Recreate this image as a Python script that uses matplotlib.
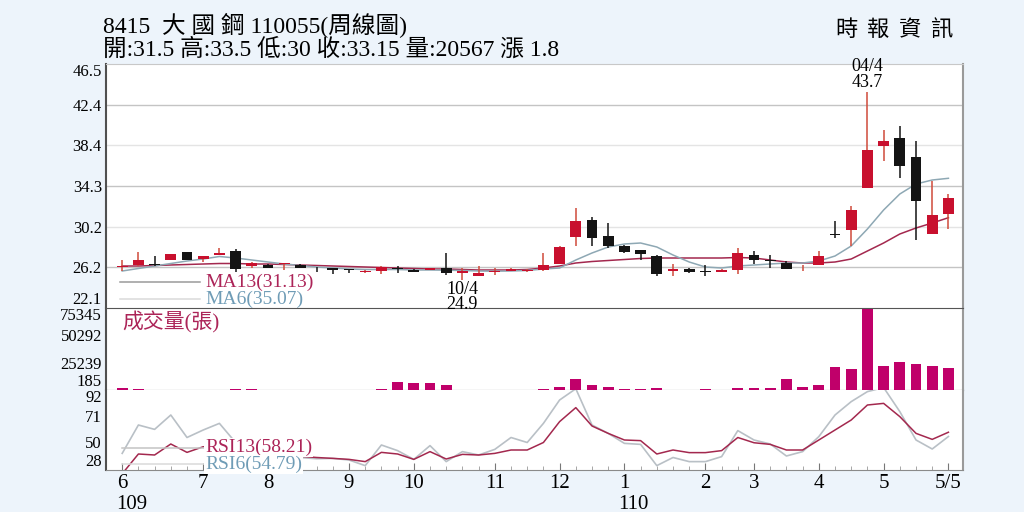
import matplotlib
matplotlib.use("Agg")
import matplotlib.pyplot as plt
import matplotlib.transforms as mtransforms
import numpy as np

plt.rcParams['font.family'] = ['Liberation Serif', 'Noto Sans CJK TC', 'DejaVu Sans']

# ---- weekly data, 109/06 .. 110/05/05 ----
opens = [26.25, 26.45, 26.5, 26.9, 27.7, 27.0, 27.4, 27.8, 26.3, 26.45,
         26.5, 26.4, 26.12, 26.07, 25.95, 25.75, 25.8, 26.1, 25.9, 25.9,
         26.07, 25.6, 25.35, 25.74, 25.8, 25.76, 25.86, 26.55, 29.2, 30.93,
         29.26, 28.26, 27.86, 27.33, 25.8, 25.99, 25.78, 25.7, 25.93, 27.43,
         26.88, 26.6, 26.08, 26.43, 29.45, 29.86, 34.1, 38.33, 39.1, 37.2,
         29.53, 31.5]
highs = [26.9, 27.7, 27.3, 27.5, 27.7, 27.3, 28.1, 28.0, 26.7, 26.45,
         26.6, 26.45, 26.15, 26.1, 25.95, 25.9, 26.3, 26.3, 25.95, 26.1,
         27.6, 26.1, 26.3, 26.1, 26.05, 25.95, 27.6, 28.3, 32.1, 31.2,
         30.6, 28.35, 27.9, 27.4, 26.5, 26.05, 26.4, 25.95, 28.1, 27.8,
         27.4, 26.75, 26.4, 27.76, 30.76, 32.33, 43.7, 39.93, 40.33, 38.76,
         34.76, 33.5]
lows = [25.8, 26.3, 26.3, 26.9, 26.9, 26.7, 27.4, 25.7, 26.1, 26.1,
        25.9, 26.05, 25.7, 25.5, 25.6, 25.6, 25.5, 25.6, 25.7, 25.85,
        25.4, 24.9, 25.25, 25.4, 25.75, 25.7, 25.8, 26.5, 28.3, 28.3,
        28.1, 27.6, 26.93, 25.33, 25.3, 25.55, 25.3, 25.68, 25.53, 26.5,
        26.1, 25.95, 25.8, 26.4, 29.1, 28.33, 34.1, 36.76, 35.1, 28.93,
        29.53, 30.0]
closes = [26.3, 26.9, 26.45, 27.5, 26.9, 27.3, 27.6, 26.0, 26.6, 26.15,
          26.55, 26.1, 26.08, 25.9, 25.92, 25.8, 26.2, 26.05, 25.73, 26.07,
          25.57, 25.85, 25.65, 25.78, 26.0, 25.93, 26.43, 28.2, 30.76, 29.1,
          28.26, 27.66, 27.5, 25.53, 26.03, 25.66, 25.74, 25.93, 27.6, 26.86,
          26.84, 26.0, 26.12, 27.26, 29.41, 31.93, 37.86, 38.76, 36.33, 32.76,
          31.35, 33.15]
volumes = [1700, 1000, 300, 250, 250, 300, 300, 1500, 1500, 300,
           250, 300, 300, 350, 250, 300, 1500, 7800, 6300, 6300,
           4800, 400, 300, 300, 250, 300, 1200, 3200, 9900, 4500,
           3300, 1200, 1200, 1600, 400, 300, 700, 300, 2000, 1600,
           1600, 9900, 3300, 4500, 21600, 19800, 75345, 22500, 25800, 24000,
           21900, 20567]
ma6 = [25.8, 26.05, 26.3, 26.55, 26.8, 27.0, 27.25, 27.1, 26.9, 26.7,
       26.5, 26.35, 26.2, 26.1, 26.0, 25.95, 25.95, 25.95, 25.9, 25.9,
       25.88, 25.85, 25.8, 25.78, 25.8, 25.85, 26.0, 26.1, 26.9, 27.6,
       28.2, 28.5, 28.6, 28.2, 27.4, 26.7, 26.2, 26.1, 26.3, 26.4,
       26.5, 26.6, 26.6, 26.8, 27.3, 28.3, 30.0, 31.9, 33.5, 34.5,
       34.9, 35.07]
ma13 = [26.3, 26.3, 26.35, 26.4, 26.45, 26.5, 26.55, 26.55, 26.5, 26.5,
        26.45, 26.4, 26.35, 26.3, 26.25, 26.2, 26.15, 26.1, 26.05, 26.0,
        26.0, 25.95, 25.9, 25.9, 25.9, 25.95, 26.1, 26.3, 26.6, 26.75,
        26.85, 26.95, 27.05, 27.1, 27.1, 27.1, 27.1, 27.1, 27.15, 27.1,
        26.9, 26.7, 26.6, 26.6, 26.7, 27.0, 27.8, 28.6, 29.5, 30.1,
        30.6, 31.13]
rsi6 = [41.3, 64.0, 60.5, 72.0, 54.0, 60.0, 65.3, 50.0, 45.0, 42.0,
        40.0, 38.0, 37.0, 37.3, 36.0, 31.5, 48.0, 43.5, 36.5, 47.5,
        34.7, 42.7, 40.0, 44.5, 54.0, 50.0, 65.3, 84.0, 93.0, 64.0,
        57.3, 49.3, 48.5, 31.5, 38.0, 34.7, 34.7, 38.7, 59.5, 52.0,
        48.8, 39.2, 42.7, 54.7, 72.0, 82.7, 90.7, 94.0, 74.7, 52.0,
        44.8, 54.79]
rsi13 = [25.0, 40.8, 40.0, 48.8, 42.1, 46.6, 45.0, 44.0, 42.0, 41.0,
         40.0, 39.0, 38.0, 37.3, 36.5, 34.7, 42.1, 40.8, 36.5, 42.7,
         36.8, 40.5, 40.0, 41.3, 44.0, 44.0, 50.0, 66.7, 77.9, 63.2,
         57.3, 52.0, 51.5, 40.8, 44.0, 41.9, 41.9, 43.5, 54.0, 49.8,
         48.5, 44.0, 44.0, 52.0, 60.0, 68.0, 80.0, 81.3, 70.7, 57.3,
         52.5, 58.21]

price_ticks = [22.1, 26.2, 30.2, 34.3, 38.4, 42.4, 46.5]
volume_ticks = [185, 25239, 50292, 75345]
rsi_ticks = [28, 50, 71, 92]
month_pos = [0, 5, 9, 14, 18, 23, 27, 31, 36, 39, 43, 47, 51]
month_labels = ['6', '7', '8', '9', '10', '11', '12', '1', '2', '3', '4', '5', '5/5']

RED = '#c8102e'
BLACK = '#141414'
CRIMSON = '#ac2458'
STEEL = '#6f9cb6'
BAR = '#c0006a'

x = np.arange(len(closes))
o = np.array(opens); c = np.array(closes)
h = np.array(highs); l = np.array(lows)
up = c >= o

fig = plt.figure(figsize=(10.24, 5.12), dpi=100, facecolor='#edf4fb')
L, W = 106 / 1024, 857 / 1024
ax_p = fig.add_axes([L, 1 - 308 / 512, W, 244 / 512])
ax_v = fig.add_axes([L, 1 - 390 / 512, W, 82 / 512], sharex=ax_p)
ax_r = fig.add_axes([L, 1 - 470 / 512, W, 80 / 512], sharex=ax_p)
# price panel on top so its low-price label can run over the volume panel edge
ax_p.set_zorder(3)
ax_v.set_zorder(1)
ax_r.set_zorder(2)

for ax in (ax_p, ax_v, ax_r):
    ax.set_facecolor('white')
    ax.spines['left'].set_color('#505050')
    ax.spines['left'].set_linewidth(1.5)
    ax.spines['right'].set_color('#9a9a9a')
    ax.spines['right'].set_linewidth(1.5)
    ax.spines['bottom'].set_color('#555555')
    ax.spines['top'].set_visible(False)
    ax.tick_params(axis='y', length=0, labelsize=12, pad=3)
    ax.tick_params(axis='x', which='both', length=0, labelbottom=False)
ax_p.spines['top'].set_visible(True)
ax_p.spines['top'].set_color('#c8c8c8')
ax_r.spines['bottom'].set_color('#8a8a8a')

ax_p.set_xlim(-1, 51.9)


def set_edge_ticks(ax, ticks, labels):
    ax.set_yticks(ticks, labels=labels)
    tl = ax.get_yticklabels()
    tl[0].set_verticalalignment('bottom')
    tl[-1].set_verticalalignment('top')


# ---- price panel ----
ax_p.set_ylim(22.1, 46.5)
for i, t in enumerate(price_ticks[1:-1]):
    ax_p.axhline(t, color='#c4c4c4' if i % 2 == 0 else '#e4e4e4', lw=1.0, zorder=0)
set_edge_ticks(ax_p, price_ticks, [f'{t:.1f}' for t in price_ticks])

ax_p.plot(x, ma13, color='#a3284e', lw=1.1, zorder=2)
ax_p.plot(x, ma6, color='#8ea8b4', lw=1.1, zorder=2)

wick_col = np.where(up, '#cf4a3a', BLACK)
body_col = np.where(up, RED, BLACK)
ax_p.vlines(x, l, h, colors=wick_col, lw=1.1, zorder=3)
body_h = np.maximum(np.abs(c - o), 0.07)
body_b = np.minimum(o, c)
ax_p.bar(x, body_h, bottom=body_b, width=0.66, color=body_col, zorder=4)

ax_p.annotate(f'04/4\n{highs[46]}', xy=(46, highs[46]), xytext=(0, 1),
              textcoords='offset points', ha='center', va='bottom',
              fontsize=13, linespacing=0.9, annotation_clip=False)
ax_p.annotate(f'10/4\n{lows[21]}', xy=(21, lows[21]), xytext=(0, -1),
              textcoords='offset points', ha='center', va='top',
              fontsize=13, linespacing=0.85, annotation_clip=False, zorder=6)

ax_p.plot([0.016, 0.11], [0.105, 0.105], transform=ax_p.transAxes,
          color='#9a9a9a', lw=1.1)
ax_p.plot([0.016, 0.11], [0.035, 0.035], transform=ax_p.transAxes,
          color='#dadada', lw=1.1)
ax_p.text(0.1155, 0.105, f'MA13({ma13[-1]:.2f})', transform=ax_p.transAxes,
          color=CRIMSON, fontsize=14, va='center', ha='left')
ax_p.text(0.1155, 0.035, f'MA6({ma6[-1]:.2f})', transform=ax_p.transAxes,
          color=STEEL, fontsize=14, va='center', ha='left')

# ---- volume panel ----
ax_v.set_ylim(volume_ticks[0], volume_ticks[-1])
ax_v.bar(x, volumes, width=0.66, color=BAR, zorder=3)
set_edge_ticks(ax_v, volume_ticks, [str(t) for t in volume_ticks])
ax_v.text(0.019, 0.83, '成交量(張)', transform=ax_v.transAxes, color=CRIMSON,
          fontsize=15, va='center', ha='left')

# ---- RSI panel ----
ax_r.set_ylim(rsi_ticks[0], rsi_ticks[-1])
ax_r.plot(x, rsi6, color='#b9c0c6', lw=1.2, zorder=2)
ax_r.plot(x, rsi13, color='#a3284e', lw=1.1, zorder=3)
set_edge_ticks(ax_r, rsi_ticks, [str(t) for t in rsi_ticks])
ax_r.plot([0.019, 0.114], [0.28, 0.28], transform=ax_r.transAxes,
          color='#c4c4c4', lw=1.1, zorder=4)
ax_r.plot([0.019, 0.114], [0.07, 0.07], transform=ax_r.transAxes,
          color='#dadada', lw=1.1, zorder=4)
box = dict(facecolor='white', edgecolor='none', pad=0.5)
ax_r.text(0.1155, 0.285, f'RSI13({rsi13[-1]:.2f})', transform=ax_r.transAxes,
          color=CRIMSON, fontsize=14, va='center', ha='left', bbox=box, zorder=5)
ax_r.text(0.1155, 0.07, f'RSI6({rsi6[-1]:.2f})', transform=ax_r.transAxes,
          color=STEEL, fontsize=14, va='center', ha='left', bbox=box, zorder=5)

ax_r.set_xticks(month_pos, labels=month_labels)
ax_r.set_xticks(x, minor=True)
ax_r.tick_params(axis='x', which='major', direction='in', length=5,
                 labelbottom=True, labelsize=15, pad=3, color='#777777')
ax_r.tick_params(axis='x', which='minor', direction='in', length=3,
                 color='#999999')
ax_p.tick_params(axis='x', which='both', labelbottom=False)
ax_v.tick_params(axis='x', which='both', labelbottom=False)

blend = mtransforms.blended_transform_factory(ax_r.transData, ax_r.transAxes)
ax_r.text(-0.35, -0.43, '109', transform=blend, ha='left', va='center', fontsize=15)
ax_r.text(30.6, -0.43, '110', transform=blend, ha='left', va='center', fontsize=15)

# ---- header ----
fig.text(103 / 1024, 1 - 25 / 512, '8415  大 國 鋼 110055(周線圖)',
         fontsize=17, ha='left', va='center')
fig.text(103 / 1024, 1 - 49 / 512,
         f'開:{opens[-1]} 高:{highs[-1]} 低:{lows[-1]:g} 收:{closes[-1]} 量:{volumes[-1]} 漲 1.8',
         fontsize=17, ha='left', va='center')
for k, ch in enumerate('時報資訊'):
    fig.text((846 + 32 * k) / 1024, 1 - 31 / 512, ch, fontsize=16,
             ha='center', va='center')

fig.savefig('out.png', dpi=100, facecolor=fig.get_facecolor())
